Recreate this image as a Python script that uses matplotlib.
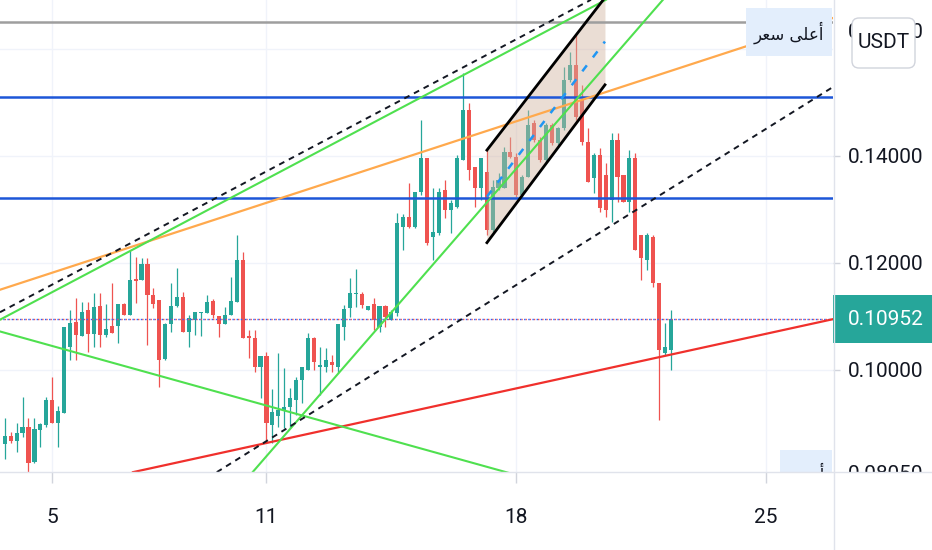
import numpy as np
import matplotlib.pyplot as plt
from matplotlib.patches import Rectangle, FancyBboxPatch
from matplotlib.lines import Line2D
from matplotlib.transforms import Bbox, TransformedBbox, blended_transform_factory

# 4h candles, quoted in USDT; first candle = day 3, 16:00
start_day = 5 - 8 / 6
opens = [0.0862, 0.0877, 0.0867, 0.0882, 0.0893, 0.0828, 0.0888, 0.0897, 0.0944, 0.0901,
         0.0920, 0.1043, 0.1090, 0.1064, 0.1112, 0.1067, 0.1120, 0.1065, 0.1082, 0.1082,
         0.1123, 0.1103, 0.1170, 0.1168, 0.1198, 0.1140, 0.1131, 0.1021, 0.1086, 0.1120,
         0.1137, 0.1071, 0.1094, 0.1107, 0.1107, 0.1129, 0.1101, 0.1086, 0.1103, 0.1127,
         0.1206, 0.1064, 0.1060, 0.1006, 0.1026, 0.0897, 0.0914, 0.0925, 0.0931, 0.0944,
         0.0981, 0.1000, 0.1060, 0.1006, 0.1006, 0.1015, 0.1006, 0.1080, 0.1116, 0.1142,
         0.1142, 0.1112, 0.1123, 0.1080, 0.1120, 0.1094, 0.1107, 0.1267, 0.1286, 0.1267,
         0.1333, 0.1396, 0.1249, 0.1256, 0.1337, 0.1299, 0.1305, 0.1393, 0.1486, 0.1380,
         0.1340, 0.1370, 0.1262, 0.1340, 0.1340, 0.1408, 0.1398, 0.1327, 0.1361, 0.1462,
         0.1430, 0.1393, 0.1458, 0.1424, 0.1453, 0.1542, 0.1570, 0.1505, 0.1426, 0.1359,
         0.1402, 0.1365, 0.1318, 0.1430, 0.1365, 0.1314, 0.1396, 0.1252, 0.1206, 0.1249,
         0.1163, 0.1032, 0.1037]
highs = [0.0910, 0.0884, 0.0901, 0.0950, 0.0910, 0.0910, 0.0901, 0.0950, 0.0987, 0.0933,
         0.1080, 0.1112, 0.1135, 0.1127, 0.1127, 0.1144, 0.1144, 0.1123, 0.1163, 0.1123,
         0.1125, 0.1224, 0.1211, 0.1209, 0.1209, 0.1153, 0.1131, 0.1088, 0.1163, 0.1191,
         0.1146, 0.1103, 0.1108, 0.1109, 0.1140, 0.1133, 0.1101, 0.1118, 0.1174, 0.1252,
         0.1221, 0.1075, 0.1075, 0.1026, 0.1034, 0.0964, 0.1032, 0.1004, 0.0966, 0.0987,
         0.1006, 0.1069, 0.1062, 0.1043, 0.1041, 0.1028, 0.1086, 0.1122, 0.1172, 0.1189,
         0.1146, 0.1120, 0.1135, 0.1120, 0.1122, 0.1112, 0.1294, 0.1292, 0.1350, 0.1333,
         0.1468, 0.1396, 0.1340, 0.1340, 0.1355, 0.1318, 0.1402, 0.1555, 0.1499, 0.1380,
         0.1396, 0.1411, 0.1355, 0.1368, 0.1417, 0.1436, 0.1406, 0.1365, 0.1486, 0.1468,
         0.1436, 0.1462, 0.1462, 0.1454, 0.1567, 0.1595, 0.1626, 0.1533, 0.1453, 0.1406,
         0.1415, 0.1387, 0.1443, 0.1443, 0.1365, 0.1411, 0.1406, 0.1252, 0.1256, 0.1252,
         0.1163, 0.1088, 0.1112]
lows = [0.0834, 0.0863, 0.0847, 0.0875, 0.0805, 0.0826, 0.0856, 0.0893, 0.0901, 0.0856,
        0.0920, 0.1019, 0.1019, 0.1064, 0.1034, 0.1043, 0.1043, 0.1062, 0.1069, 0.1050,
        0.1103, 0.1103, 0.1125, 0.1168, 0.1047, 0.1116, 0.0968, 0.1019, 0.1071, 0.1118,
        0.1071, 0.1043, 0.1065, 0.1064, 0.1107, 0.1097, 0.1062, 0.1086, 0.1103, 0.1127,
        0.1060, 0.1022, 0.0996, 0.0948, 0.0865, 0.0863, 0.0893, 0.0892, 0.0892, 0.0916,
        0.0938, 0.1000, 0.1000, 0.0953, 0.0996, 0.0996, 0.0994, 0.1056, 0.1099, 0.1118,
        0.1116, 0.1112, 0.1075, 0.1071, 0.1080, 0.1094, 0.1101, 0.1224, 0.1266, 0.1266,
        0.1327, 0.1234, 0.1206, 0.1252, 0.1284, 0.1256, 0.1303, 0.1393, 0.1355, 0.1305,
        0.1318, 0.1252, 0.1258, 0.1337, 0.1340, 0.1396, 0.1324, 0.1324, 0.1361, 0.1426,
        0.1389, 0.1389, 0.1421, 0.1421, 0.1449, 0.1539, 0.1468, 0.1421, 0.1352, 0.1331,
        0.1295, 0.1286, 0.1277, 0.1314, 0.1314, 0.1295, 0.1224, 0.1168, 0.1187, 0.1155,
        0.0907, 0.1028, 0.1000]
closes = [0.0877, 0.0867, 0.0882, 0.0893, 0.0826, 0.0890, 0.0899, 0.0944, 0.0901, 0.0923,
          0.1080, 0.1088, 0.1065, 0.1108, 0.1067, 0.1118, 0.1065, 0.1077, 0.1069, 0.1123,
          0.1103, 0.1168, 0.1166, 0.1198, 0.1140, 0.1123, 0.1019, 0.1086, 0.1120, 0.1137,
          0.1071, 0.1097, 0.1108, 0.1108, 0.1127, 0.1103, 0.1086, 0.1103, 0.1129, 0.1206,
          0.1060, 0.1060, 0.1006, 0.1026, 0.0901, 0.0921, 0.0925, 0.0931, 0.0948, 0.0981,
          0.1006, 0.1060, 0.1015, 0.1009, 0.1019, 0.1009, 0.1086, 0.1114, 0.1144, 0.1144,
          0.1122, 0.1120, 0.1094, 0.1120, 0.1099, 0.1108, 0.1275, 0.1286, 0.1267, 0.1333,
          0.1396, 0.1237, 0.1258, 0.1333, 0.1299, 0.1312, 0.1396, 0.1486, 0.1374, 0.1340,
          0.1396, 0.1262, 0.1342, 0.1355, 0.1408, 0.1398, 0.1327, 0.1361, 0.1458, 0.1430,
          0.1393, 0.1458, 0.1424, 0.1453, 0.1542, 0.1570, 0.1473, 0.1426, 0.1352, 0.1402,
          0.1303, 0.1299, 0.1430, 0.1361, 0.1314, 0.1396, 0.1224, 0.1209, 0.1252, 0.1163,
          0.1037, 0.1043, 0.10952]

day_ticks = [5, 11, 18, 25]
price_ticks = [0.10, 0.12, 0.14]
grid_prices = [0.10, 0.12, 0.14, 0.16]
x_range = (3.535, 26.87)
y_range = (0.08093, 0.16916)

# drawings: (days), (prices)
gray_level = 0.1651
blue_levels = [0.1511, 0.1322]
dash_top = ([3.535, 20.09], [0.1108, 0.1692])
dash_low = ([9.608, 26.87], [0.0809, 0.1529])
green_top = ([3.535, 20.51], [0.1094, 0.1692])
green_steep = ([10.611, 22.106], [0.0809, 0.1692])
green_down = ([3.535, 17.82], [0.1072, 0.0807])
orange_line = ([3.535, 26.87], [0.1150, 0.1658])
red_line = ([7.26, 26.87], [0.0809, 0.1095])
chan_x = [17.176, 20.482]
chan_top = [0.1411, 0.1696]
chan_bot = [0.1238, 0.1533]
chan_mid = [0.1324, 0.1614]

UP, DOWN = '#26a69a', '#ef5350'
TXT = '#131722'
plt.rcParams['font.family'] = ['Roboto', 'DejaVu Sans']
FS = 15

o = np.array(opens); h = np.array(highs); l = np.array(lows); c = np.array(closes)
t = start_day + np.arange(len(o)) / 6
cols = np.where(c >= o, UP, DOWN)

fig = plt.figure(figsize=(9.32, 5.5), dpi=100)
ax = fig.add_axes([0, 78 / 550, 833 / 932, 472 / 550])
ax.set_xlim(*x_range)
ax.set_ylim(*y_range)

for d in day_ticks:
    ax.axvline(d, color='#f0f3fa', lw=1, zorder=0)
for p in grid_prices:
    ax.axhline(p, color='#f0f3fa', lw=1, zorder=0)

ax.vlines(t, l, h, colors=cols, lw=0.9, zorder=2)
body = np.maximum(np.abs(c - o), 0.00015)
ax.bar(t, body, bottom=np.minimum(o, c), width=0.115, color=cols, lw=0, zorder=2)

# last price dotted line (red / blue dots)
ax.axhline(closes[-1], color=DOWN, lw=1, ls=(0, (1, 2)), zorder=3)
ax.axhline(closes[-1], color='#2962ff', lw=1, ls=(1, (1, 2)), zorder=3)

# drawings
ax.axhline(gray_level, color='#9e9e9e', lw=1.8, zorder=4)
for b in blue_levels:
    ax.axhline(b, color='#1d56d8', lw=1.8, zorder=4)
ax.plot(*orange_line, color='#ffa94d', lw=1.6, zorder=4)
ax.plot(*red_line, color='#f0302c', lw=1.6, zorder=4)
for g in (green_top, green_steep, green_down):
    ax.plot(*g, color='#4fe04f', lw=1.5, zorder=4)
for dl in (dash_top, dash_low):
    ax.plot(*dl, color='#131722', lw=1.4, dashes=(3, 2.6), zorder=4)
ax.fill_between(chan_x, chan_bot, chan_top, color='#d2b4a0', alpha=0.45, lw=0, zorder=3)
ax.plot(chan_x, chan_top, color='black', lw=2, zorder=4)
ax.plot(chan_x, chan_bot, color='black', lw=2, zorder=4)
ax.plot(chan_x, chan_mid, color='#2196f3', lw=1.8, dashes=(3, 4), zorder=4)

# axes styling
for s in ax.spines.values():
    s.set_visible(False)
ax.yaxis.tick_right()
ax.set_yticks(price_ticks)
ax.set_yticklabels([f'{p:.5f}' for p in price_ticks])
ax.tick_params(axis='y', length=5, width=1, color='#d1d4dc', pad=6,
               labelsize=FS, labelcolor=TXT)
ax.set_xticks(day_ticks)
ax.set_xticklabels([str(d) for d in day_ticks])
ax.tick_params(axis='x', length=8, width=1, color='#d1d4dc', pad=18,
               labelsize=FS, labelcolor=TXT)

# price-scale labels
bt = blended_transform_factory(ax.transAxes, ax.transData)
ppu = 472 / (y_range[1] - y_range[0])
half = 24 / ppu
clip = TransformedBbox(Bbox([[0, 0], [932 / 833, 1]]), ax.transAxes)
xs = 833.5 / 833; xe = 932 / 833; xt = 848 / 833


def level_label(ar_text, value, ycen, x_start):
    for x0, x1 in ((x_start / 833, 832 / 833), (834 / 833, xe)):
        r = Rectangle((x0, ycen - half), x1 - x0, 2 * half, transform=bt,
                      facecolor='#e3eefc', lw=0, zorder=6, clip_on=True)
        r.set_clip_box(clip)
        ax.add_artist(r)
    t1 = ax.text(824 / 833, ycen, ar_text, transform=bt, ha='right', va='center',
                 fontsize=12, family=['DejaVu Sans'], color=TXT, zorder=7, clip_on=True)
    t2 = ax.text(xt, ycen, value, transform=bt, ha='left', va='center',
                 fontsize=FS, color=TXT, zorder=7, clip_on=True)
    for tx in (t1, t2):
        tx.set_clip_box(clip)


hi = max(highs); lo = min(lows)
level_label('\uFEAE\uFECC\uFEB3 \uFEF0\uFEE0\uFECB\uFE83', f'{hi:.5f}', hi + 0.0005, 746)
level_label('\uFEF0\uFEE7\uFEA9\uFE83', f'{lo:.5f}', lo, 780)

last = closes[-1]
ax.add_artist(Rectangle((xs, last - half), xe - xs, 2 * half, transform=bt,
                        facecolor=UP, lw=0, zorder=6, clip_on=False))
ax.text(xt, last, f'{last:.5f}', transform=bt, ha='left', va='center',
        fontsize=FS, color='white', zorder=7)

# pane separators
fig.add_artist(Line2D([833.5 / 932] * 2, [0, 1], color='#e0e3eb', lw=1))
fig.add_artist(Line2D([0, 1], [78.5 / 550] * 2, color='#e0e3eb', lw=1))

# currency button
fig.add_artist(FancyBboxPatch((8.52, 4.82), 0.63, 0.5, boxstyle='round,pad=0,rounding_size=0.07',
                              transform=fig.dpi_scale_trans, facecolor='white',
                              edgecolor='#d1d4dc', lw=1, zorder=8))
fig.text(8.835 / 9.32, 5.07 / 5.5, 'USDT', ha='center', va='center', fontsize=FS,
         color=TXT, zorder=9)

fig.savefig('out.png', dpi=100)
